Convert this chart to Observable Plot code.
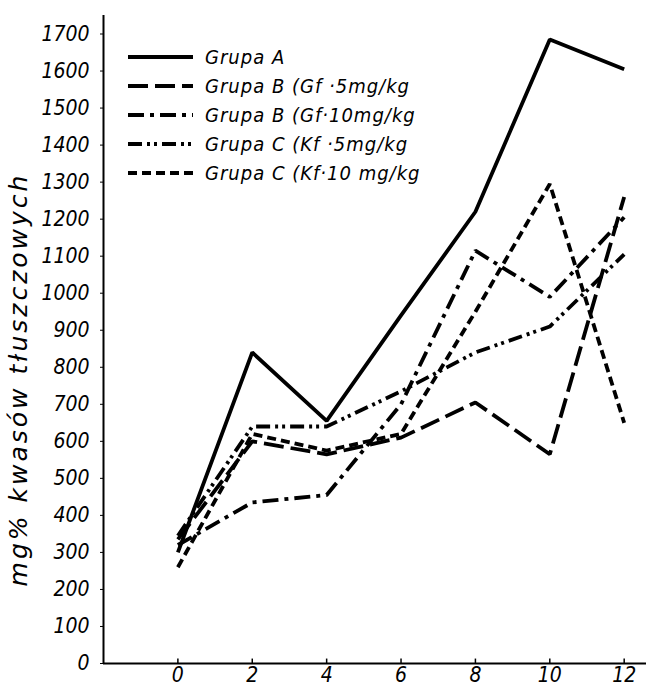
<!DOCTYPE html>
<html><head><meta charset="utf-8">
<script src="https://cdn.jsdelivr.net/npm/d3@7"></script>
<script src="https://cdn.jsdelivr.net/npm/@observablehq/plot@0.6"></script>
<style>
body{margin:0;background:#fff;}
</style></head><body><div id="chart"></div>
<script>
// ---- data ----
const weeks = [0, 2, 4, 6, 8, 10, 12];
const grupaA   = [300, 840, 655, 940, 1220, 1685, 1605];
const grupaB5  = [335, 600, 565, 610, 705, 565, 1260];
const grupaB10 = [320, 435, 455, 700, 1115, 990, 1205];
const grupaC5  = [345, 640, 640, 735, 840, 910, 1105];
const grupaC10 = [260, 620, 575, 620, 950, 1295, 650];
const seriesNames = ["Grupa A", "Grupa B (Gf ·5mg/kg", "Grupa B (Gf·10mg/kg", "Grupa C (Kf ·5mg/kg", "Grupa C (Kf·10 mg/kg"];
const xTicks = [0, 2, 4, 6, 8, 10, 12];
const yTicks = [0, 100, 200, 300, 400, 500, 600, 700, 800, 900, 1000, 1100, 1200, 1300, 1400, 1500, 1600, 1700];
const yTitle = "mg% kwasów tłuszczowych";

// ---- styles ----
const seriesValues = [grupaA, grupaB5, grupaB10, grupaC5, grupaC10];
const dashStyles = [null, "20,7", "16,6,4,6", "14,5,3,4,3,5", "9,5"];
const FONT = '"DejaVu Sans Condensed", "DejaVu Sans", sans-serif';
const xDomain = [-2, 12.6];
const yDomain = [0, 1750];

const rows = seriesNames.flatMap((s, i) => weeks.map((w, j) => ({series: s, week: w, value: seriesValues[i][j]})));

const lineMarks = seriesNames.map((s, i) => Plot.line(rows.filter(r => r.series === s), {
  x: "week", y: "value", stroke: "black", strokeWidth: 3.8,
  strokeDasharray: dashStyles[i] ?? undefined, strokeLinejoin: "miter", strokeLinecap: "butt"
}));

const chart = Plot.plot({
  width: 646, height: 694,
  marginLeft: 103, marginRight: 0, marginTop: 15, marginBottom: 31,
  style: {fontFamily: FONT, fontStyle: "italic", background: "white", color: "black"},
  x: {domain: xDomain},
  y: {domain: yDomain},
  marks: [
    Plot.ruleX([xDomain[0]], {stroke: "black", strokeWidth: 2}),
    Plot.ruleY([0], {stroke: "black", strokeWidth: 2}),
    Plot.ruleX(xTicks, {y1: 0, y2: 12, stroke: "black", strokeWidth: 1.5}),
    Plot.axisX(xTicks, {tickSize: 0, tickPadding: 4, fontSize: 21, label: null, tickFormat: d => String(d)}),
    Plot.axisY(yTicks, {tickSize: 3, tickPadding: 11, fontSize: 21, fontWeight: 500, label: null, tickFormat: d => String(d)}),
    Plot.text([yTitle], {text: d => d, frameAnchor: "left", textAnchor: "middle", rotate: -90, dx: -85, dy: 40,
      fontSize: 25, fontFamily: '"DejaVu Sans", sans-serif', letterSpacing: 3}),
    ...lineMarks
  ]
});

// legend inside the plot area (top-left)
const svg = d3.select(chart);
svg.selectAll("text").filter(function() { return this.textContent === yTitle; }).attr("letter-spacing", 3);
const lg = svg.append("g").attr("font-family", FONT).attr("font-style", "italic").attr("font-size", 20).attr("text-anchor", "start");
seriesNames.forEach((s, i) => {
  const yy = 57 + i * 29;
  lg.append("line").attr("x1", 128).attr("x2", 193).attr("y1", yy).attr("y2", yy)
    .attr("stroke", "black").attr("stroke-width", 3.8)
    .attr("stroke-dasharray", dashStyles[i]);
  lg.append("text").attr("x", 205).attr("y", yy).attr("dy", "0.35em").attr("letter-spacing", 1).text(s);
});

document.getElementById("chart").appendChild(chart);
</script>
</body></html>
